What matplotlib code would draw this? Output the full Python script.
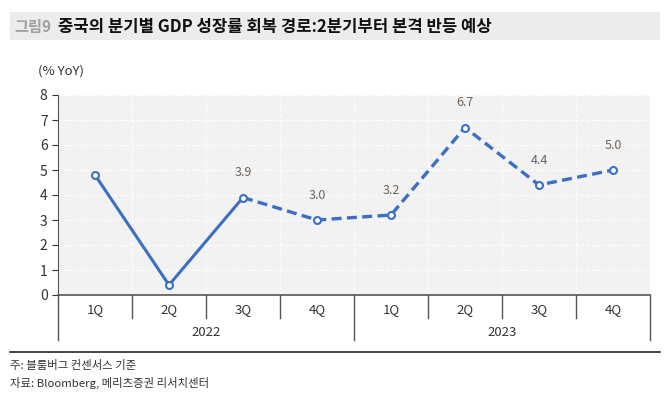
import matplotlib.pyplot as plt
from matplotlib.patches import Rectangle
from matplotlib.lines import Line2D

plt.rcParams["font.family"] = ["Noto Sans CJK KR", "DejaVu Sans"]

quarters = ["1Q", "2Q", "3Q", "4Q", "1Q", "2Q", "3Q", "4Q"]
years = ["2022", "2023"]
gdp = [4.8, 0.4, 3.9, 3.0, 3.2, 6.7, 4.4, 5.0]
actual_n = 3  # solid up to 3Q22, dashed (forecast) after
label_from = 2

line_color = "#3a6fc4"
text_color = "#333333"

fig = plt.figure(figsize=(6.66, 4.18), dpi=100)

# title bar
fig.patches.append(Rectangle((10 / 666, 1 - 40 / 418), 650 / 666, 28 / 418,
                             transform=fig.transFigure, facecolor="#ececec", edgecolor="none"))
fig.text(14 / 666, 1 - 27 / 418, "그림9", color="#a0a0a0", fontsize=11, va="center", fontweight="bold")
fig.text(58 / 666, 1 - 27 / 418, "중국의 분기별 GDP 성장률 회복 경로:2분기부터 본격 반등 예상",
         color="#111111", fontsize=12, va="center", fontweight="bold")

ax = fig.add_axes([58 / 666, 1 - 295 / 418, 592 / 666, 200 / 418])
ax.set_facecolor("#f2f2f2")
x = list(range(len(gdp)))

ax.plot(x[:actual_n], gdp[:actual_n], color=line_color, lw=2.2, zorder=3)
ax.plot(x[actual_n - 1:], gdp[actual_n - 1:], color=line_color, lw=2.4, ls=(0, (3, 1.6)), zorder=3)
ax.plot(x, gdp, ls="none", marker="o", ms=5, mfc="white", mec=line_color, mew=1.5, zorder=4)

for xi, v in zip(x[label_from:], gdp[label_from:]):
    ax.annotate(f"{v:.1f}", (xi, v), xytext=(0, 13), textcoords="offset points",
                ha="center", va="bottom", fontsize=9, color="#6e6358")

ax.set_xlim(-0.5, len(gdp) - 0.5)
ax.set_ylim(0, 8)
ax.set_yticks(range(0, 9))
ax.tick_params(axis="y", labelsize=10, colors="#333333", length=4, direction="out")
ax.set_xticks([])

for y in range(1, 9):
    ax.axhline(y, color="white", lw=0.8, ls=(0, (3, 2)), zorder=1)
for b in range(1, len(gdp)):
    ax.axvline(b - 0.5, color="white", lw=0.8, ls=(0, (3, 2)), zorder=1)

for s in ["top", "right"]:
    ax.spines[s].set_visible(False)
ax.spines["left"].set_color("#555555")
ax.spines["bottom"].set_color("#555555")
ax.spines["bottom"].set_linewidth(1.2)

# category axis (quarters + years)
trans = ax.get_xaxis_transform()
for i, q in enumerate(quarters):
    ax.text(i, -0.075, q, transform=trans, ha="center", va="center", fontsize=9.5, color=text_color)
for b in range(1, len(gdp)):
    depth = -0.225 if b == 4 else -0.115
    ax.add_line(Line2D([b - 0.5, b - 0.5], [0, depth], transform=trans, color="#555555",
                       lw=1.0, clip_on=False))
for edge in [-0.5, len(gdp) - 0.5]:
    ax.add_line(Line2D([edge, edge], [0, -0.225], transform=trans, color="#555555",
                       lw=1.0, clip_on=False))
for j, yr in enumerate(years):
    ax.text(1.5 + 4 * j, -0.185, yr, transform=trans, ha="center", va="center",
            fontsize=9.5, color=text_color)

fig.text(38 / 666, 1 - 71 / 418, "(% YoY)", fontsize=9.5, color=text_color, va="center")

# footer
fig.add_artist(Line2D([10 / 666, 660 / 666], [1 - 352 / 418, 1 - 352 / 418],
                      transform=fig.transFigure, color="#222222", lw=1.2))
fig.text(10 / 666, 1 - 365 / 418, "주: 블룸버그 컨센서스 기준", fontsize=8.2, color=text_color, va="center")
fig.text(10 / 666, 1 - 383 / 418, "자료: Bloomberg, 메리츠증권 리서치센터", fontsize=8.2, color=text_color, va="center")

fig.savefig("out.png", dpi=100)
